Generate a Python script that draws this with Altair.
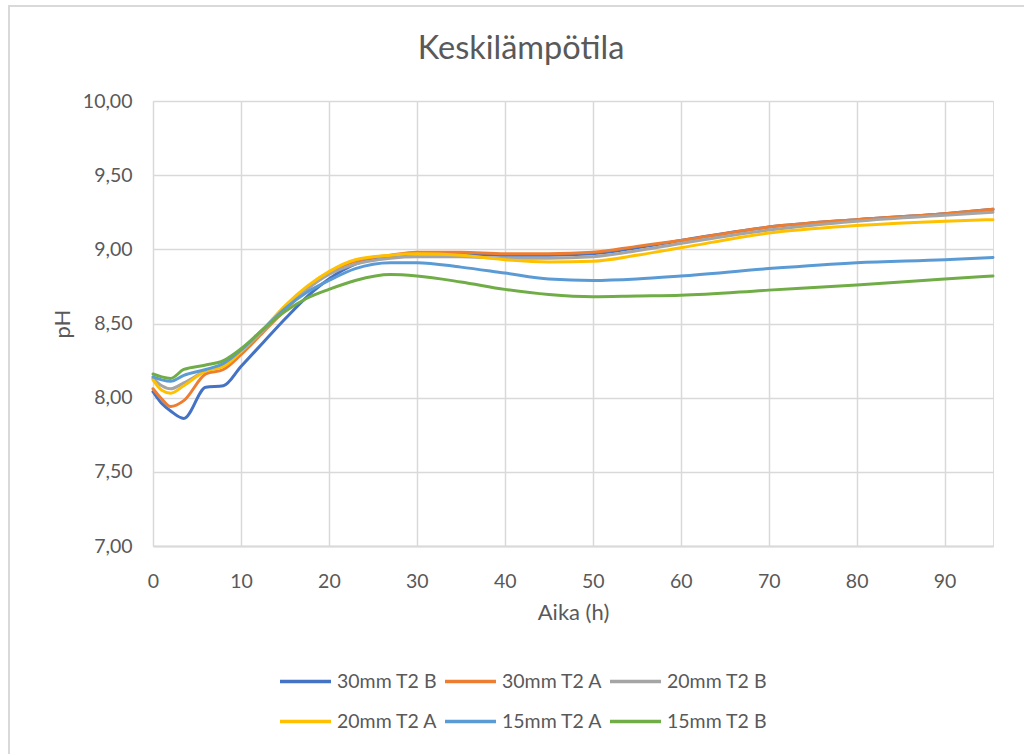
import altair as alt
import pandas as pd

# ---- data ----
times = [0, 1, 2, 3.5, 6, 8, 10, 12.5, 15, 17.5, 20, 23, 27, 30, 35, 40, 45, 50, 55, 60, 70, 80, 90, 95.5]

series_names = ["30mm T2 B", "30mm T2 A", "20mm T2 B", "20mm T2 A", "15mm T2 A", "15mm T2 B"]
series_colors = ["#4472C4", "#ED7D31", "#A5A5A5", "#FFC000", "#5B9BD5", "#70AD47"]

ph_30mm_t2_b = [8.04, 7.96, 7.91, 7.86, 8.07, 8.08, 8.21, 8.37, 8.53, 8.68, 8.80, 8.90, 8.95, 8.97, 8.97, 8.96, 8.96, 8.97, 9.01, 9.06, 9.15, 9.20, 9.24, 9.27]
ph_30mm_t2_a = [8.06, 7.99, 7.94, 7.98, 8.16, 8.19, 8.29, 8.44, 8.59, 8.73, 8.84, 8.92, 8.96, 8.98, 8.98, 8.97, 8.97, 8.98, 9.02, 9.06, 9.15, 9.20, 9.24, 9.27]
ph_20mm_t2_b = [8.13, 8.08, 8.06, 8.10, 8.18, 8.22, 8.31, 8.45, 8.60, 8.73, 8.83, 8.90, 8.94, 8.95, 8.95, 8.94, 8.94, 8.95, 8.99, 9.04, 9.13, 9.19, 9.23, 9.25]
ph_20mm_t2_a = [8.12, 8.05, 8.03, 8.08, 8.18, 8.21, 8.31, 8.46, 8.62, 8.75, 8.85, 8.93, 8.96, 8.97, 8.96, 8.93, 8.915, 8.92, 8.96, 9.01, 9.11, 9.16, 9.19, 9.20]
ph_15mm_t2_a = [8.14, 8.12, 8.11, 8.15, 8.19, 8.23, 8.32, 8.46, 8.60, 8.71, 8.79, 8.87, 8.91, 8.91, 8.88, 8.84, 8.80, 8.79, 8.80, 8.82, 8.87, 8.91, 8.93, 8.945]
ph_15mm_t2_b = [8.16, 8.14, 8.13, 8.19, 8.22, 8.25, 8.33, 8.46, 8.58, 8.67, 8.73, 8.79, 8.83, 8.82, 8.78, 8.73, 8.695, 8.68, 8.685, 8.69, 8.725, 8.76, 8.80, 8.82]

x_ticks = [0, 10, 20, 30, 40, 50, 60, 70, 80, 90]
y_ticks = [7.0, 7.5, 8.0, 8.5, 9.0, 9.5, 10.0]

chart_title = "Keskilämpötila"

all_series = [ph_30mm_t2_b, ph_30mm_t2_a, ph_20mm_t2_b, ph_20mm_t2_a, ph_15mm_t2_a, ph_15mm_t2_b]

rows = []
for order, (name, vals) in enumerate(zip(series_names, all_series)):
    for t, v in zip(times, vals):
        rows.append({"Sarja": name, "order": order, "Aika": t, "pH": v})
df = pd.DataFrame(rows)

FONT = "Lato"
TXT = "#595959"
GRID = "#D9D9D9"

frame = alt.Chart(alt.Data(values=[{}])).mark_rect(
    filled=False, fillOpacity=0, stroke=GRID, strokeWidth=2
).encode(
    x=alt.value(-144), x2=alt.value(1000), y=alt.value(-95), y2=alt.value(800)
)

title_mark = alt.Chart(alt.Data(values=[{"t": chart_title}])).mark_text(
    font=FONT, fontSize=32.5, color=TXT, align="center", baseline="middle"
).encode(
    text="t:N", x=alt.value(368), y=alt.value(-52)
)

lines = alt.Chart(df).mark_line(interpolate="monotone", strokeWidth=3, strokeCap="round").encode(
    x=alt.X("Aika:Q",
            scale=alt.Scale(domain=[0, 95.5], nice=False, zero=False),
            axis=alt.Axis(title="Aika (h)", values=x_ticks, format="d", grid=True,
                          gridColor=GRID, gridWidth=1.5, domainColor=GRID, domainWidth=2,
                          ticks=False, labelPadding=26, titlePadding=12, labelFlush=False,
                          labelFontSize=19.5, titleFontSize=22, labelColor=TXT, titleColor=TXT,
                          labelFont=FONT, titleFont=FONT, titleFontWeight="normal")),
    y=alt.Y("pH:Q",
            scale=alt.Scale(domain=[7, 10], nice=False, zero=False),
            axis=alt.Axis(title="pH", values=y_ticks,
                          labelExpr="replace(format(datum.value, '.2f'), '.', ',')",
                          grid=True, gridColor=GRID, gridWidth=1.5, domain=False, ticks=False,
                          labelPadding=21, titlePadding=8, labelFlush=False,
                          labelFontSize=19.5, titleFontSize=22, labelColor=TXT, titleColor=TXT,
                          labelFont=FONT, titleFont=FONT, titleFontWeight="normal")),
    color=alt.Color("Sarja:N",
                    scale=alt.Scale(domain=series_names, range=series_colors),
                    sort=series_names,
                    legend=alt.Legend(title=None, orient="none", legendX=125, legendY=553,
                                      direction="horizontal", columns=3, symbolType="stroke",
                                      symbolSize=2600, symbolStrokeWidth=3.5, labelOffset=4,
                                      columnPadding=0, rowPadding=3, gridAlign="all",
                                      labelFontSize=19.5, labelColor=TXT, labelFont=FONT,
                                      labelLimit=300)),
    order=alt.Order("order:Q"),
    detail="Sarja:N",
)

chart = alt.layer(frame, title_mark, lines).properties(
    width=840, height=445,
    padding={"left": 153, "top": 101, "right": 31, "bottom": 208},
    autosize=alt.AutoSizeParams(type="none"),
).configure_view(stroke=None).configure(background="white")

chart.save("out.html", embed_options={"renderer": "svg", "actions": False})
